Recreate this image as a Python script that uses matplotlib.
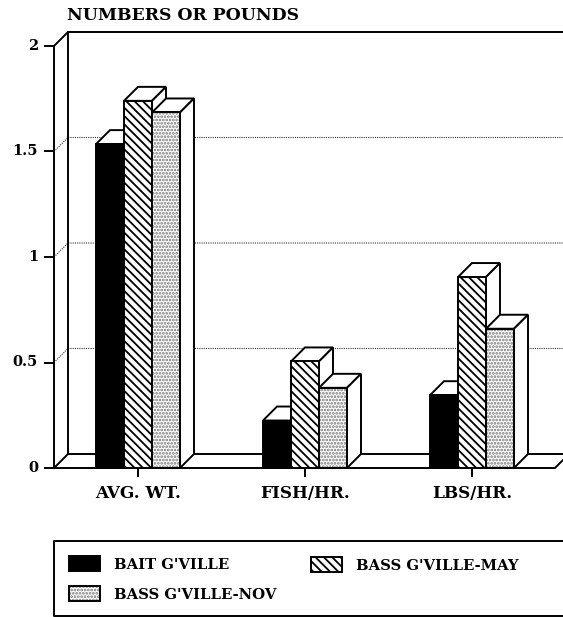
import matplotlib
matplotlib.use("Agg")
import matplotlib.pyplot as plt
from matplotlib.patches import Rectangle

# ==========================
# DATA
# ==========================
categorias = ["AVG. WT.", "FISH/HR.", "LBS/HR."]
series = ["BAIT G'VILLE", "BASS G'VILLE-MAY", "BASS G'VILLE-NOV"]
bait = [1.535, 0.225, 0.345]
bass_may = [1.74, 0.505, 0.905]
bass_nov = [1.685, 0.38, 0.66]
yticks = [0, 0.5, 1, 1.5, 2]
ylabels = ["0", "0.5", "1", "1.5", "2"]

# ==========================
# LAYOUT (pixels of the 563x617 picture)
# ==========================
W, H = 563, 617
X0, Y0 = 138, 468     # first category, value 0
PX_CAT, PX_VAL = 167, 211
DEPTH = 14
BAR_PX = 28
FONT = "DejaVu Serif"
LW = 1.4

plt.rcParams["hatch.linewidth"] = 1.3

fig = plt.figure(figsize=(W / 100, H / 100), dpi=100)
ax = fig.add_axes([0, 0, 1, 1])
ax.set_xlim(-X0 / PX_CAT, (W - X0) / PX_CAT)
ax.set_ylim((Y0 - H) / PX_VAL, Y0 / PX_VAL)
ax.axis("off")

dx = DEPTH / PX_CAT
dy = DEPTH / PX_VAL
wid = BAR_PX / PX_CAT
left = (54 - X0) / PX_CAT
right = (W + 20 - X0) / PX_CAT
ymax = yticks[-1]


def px(x, y):
    return (x - X0) / PX_CAT, (Y0 - y) / PX_VAL


def linha(xs, ys, **kw):
    kw.setdefault("color", "black")
    kw.setdefault("lw", LW)
    kw.setdefault("zorder", 0.5)  # behind the bars
    ax.plot(xs, ys, solid_capstyle="projecting", **kw)


# back wall and floor
linha([left, left + dx, right], [ymax, ymax + dy, ymax + dy])
linha([left, left], [0, ymax])
linha([left + dx, left + dx], [dy, ymax + dy])
linha([left, left + dx, right], [0, dy, dy])
floor_end = (555 - X0) / PX_CAT
linha([left, floor_end, floor_end + dx], [0, 0, dy])

# gridlines on the wall
for v in yticks[1:-1]:
    ax.plot([left, left + dx, right], [v, v + dy, v + dy], color="#333333", lw=0.8, ls=(0, (1, 1)), zorder=0.4)

# ticks and labels
for v, txt in zip(yticks, ylabels):
    linha([left - 9 / PX_CAT, left], [v, v])
    ax.text((38 - X0) / PX_CAT, v, txt, ha="right", va="center", family=FONT, weight="bold", fontsize=10.5)
for i, cat in enumerate(categorias):
    linha([i, i], [0, -8 / PX_VAL])
    ax.text(i, -26 / PX_VAL, cat, ha="center", va="center", family=FONT, weight="bold", fontsize=12.2)
ax.text((67 - X0) / PX_CAT, (Y0 - 16) / PX_VAL, "NUMBERS OR POUNDS", ha="left", va="center",
        family=FONT, weight="bold", fontsize=12.4)

# bars, back faces first so the next bar covers the side of the previous one
estilos = [
    {"facecolor": "black", "edgecolor": "black"},
    {"facecolor": "white", "edgecolor": "black", "hatch": "\\\\\\\\"},
    {"facecolor": "white", "edgecolor": "#777777", "hatch": "....."},
]
for j, valores in enumerate([bait, bass_may, bass_nov]):
    for i, v in enumerate(valores):
        x1 = i + (j - 1) * wid - wid / 2
        x2 = x1 + wid
        ax.fill([x1, x1 + dx, x2 + dx, x2], [v, v + dy, v + dy, v], facecolor="white", edgecolor="black", lw=LW)
        ax.fill([x2, x2 + dx, x2 + dx, x2], [0, dy, v + dy, v], facecolor="white", edgecolor="black", lw=LW)
        ax.bar(x1, v, width=wid, align="edge", linewidth=0, **estilos[j])
        ax.bar(x1, v, width=wid, align="edge", fill=False, edgecolor="black", linewidth=LW)

# legend, open on the right like the original
linha(*zip(px(W + 5, 541), px(54, 541), px(54, 616), px(W + 5, 616)))
pos_leg = [(69, 556), (311, 557), (69, 586)]
for nome, (lx, ly), est in zip(series, pos_leg, estilos):
    xa, ya = px(lx, ly + 15)
    ax.add_patch(Rectangle((xa, ya), 31 / PX_CAT, 15 / PX_VAL, linewidth=0, **est))
    ax.add_patch(Rectangle((xa, ya), 31 / PX_CAT, 15 / PX_VAL, fill=False, edgecolor="black", linewidth=LW))
    tx, ty = px(lx + 45, ly + 9)
    ax.text(tx, ty, nome, ha="left", va="center", family=FONT, weight="bold", fontsize=10.7)

fig.savefig("out.png", dpi=100, facecolor="white")
